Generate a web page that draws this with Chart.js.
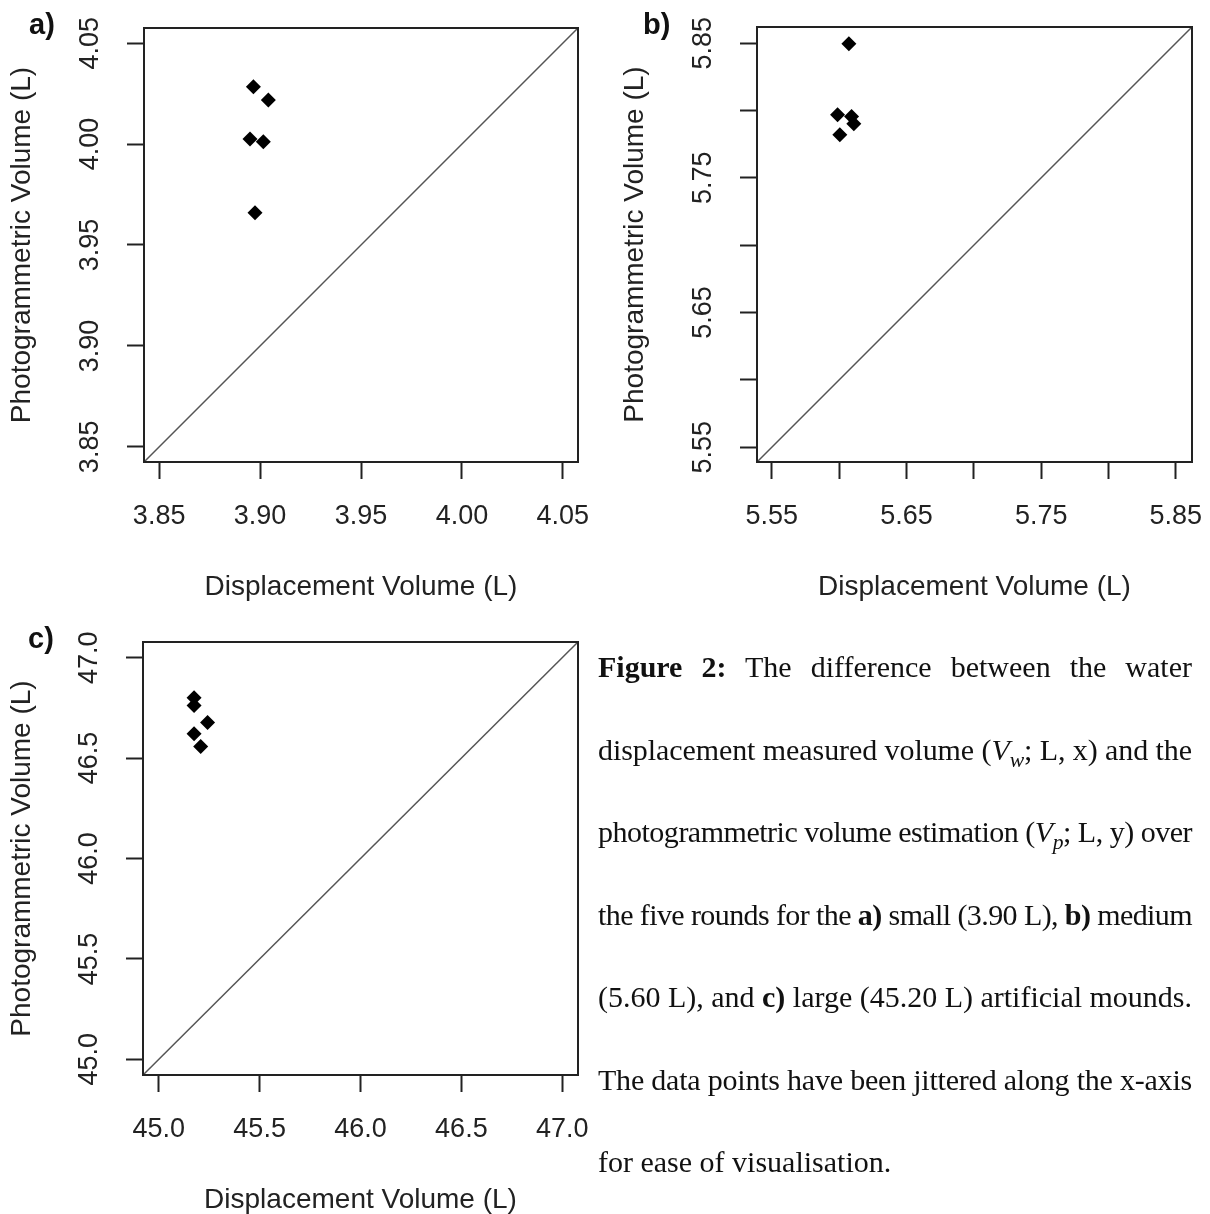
<!DOCTYPE html>
<html lang="en">
<head>
  <meta charset="UTF-8" />
  <title>Figure 2</title>
  <script src="https://cdn.jsdelivr.net/npm/chart.js"></script>
  <style>
    body { margin: 0; background: #fff; }
    #page { position: relative; width: 1210px; height: 1214px; overflow: hidden; }
    canvas { position: absolute; }
    .tag { position: absolute; font: bold 29px "Liberation Sans", Arial, sans-serif; line-height: 29px; color: #111; }
    #caption { position: absolute; left: 598px; top: 626px; width: 594px;
      font: 30px "Liberation Serif", "Times New Roman", serif; line-height: 82.5px; color: #111; }
    #caption div { text-align: justify; text-align-last: justify; white-space: nowrap; }
    #caption div.last { text-align-last: left; }
    #caption sub { font-size: 0.72em; line-height: 0; }
  </style>
</head>
<body>
  <div id="page">
    <canvas id="chartA" width="600" height="612" style="left:0;top:0"></canvas>
    <canvas id="chartB" width="597" height="612" style="left:613px;top:0"></canvas>
    <canvas id="chartC" width="600" height="600" style="left:0;top:614px"></canvas>
    <div class="tag" style="left:29px;top:10px">a)</div>
    <div class="tag" style="left:643px;top:10px">b)</div>
    <div class="tag" style="left:28px;top:624px">c)</div>
    <div id="caption">
      <div><b>Figure 2:</b> The difference between the water</div>
      <div>displacement measured volume (<i>V<sub>w</sub></i>; L, x) and the</div>
      <div>photogrammetric volume estimation (<i>V<sub>p</sub></i>; L, y) over</div>
      <div>the five rounds for the <b>a)</b> small (3.90 L), <b>b)</b> medium</div>
      <div>(5.60 L), and <b>c)</b> large (45.20 L) artificial mounds.</div>
      <div>The data points have been jittered along the x-axis</div>
      <div class="last">for ease of visualisation.</div>
    </div>
  </div>

  <script>
    // Werte
    const smallX = [3.8967, 3.9041, 3.8950, 3.9016, 3.8975];
    const smallY = [4.0284, 4.0218, 4.0025, 4.0012, 3.9660];
    const mediumX = [5.6072, 5.5988, 5.6092, 5.6109, 5.6005];
    const mediumY = [5.8496, 5.7968, 5.7955, 5.7901, 5.7819];
    const largeX = [45.175, 45.175, 45.242, 45.175, 45.208];
    const largeY = [46.800, 46.762, 46.677, 46.621, 46.558];

    const smallTicks = [3.85, 3.90, 3.95, 4.00, 4.05];
    const smallTickLabels = ["3.85", "3.90", "3.95", "4.00", "4.05"];
    const mediumTicks = [5.55, 5.60, 5.65, 5.70, 5.75, 5.80, 5.85];
    const mediumTickLabels = ["5.55", "", "5.65", "", "5.75", "", "5.85"];
    const largeTicks = [45.0, 45.5, 46.0, 46.5, 47.0];
    const largeTickLabels = ["45.0", "45.5", "46.0", "46.5", "47.0"];

    const smallLimits = [3.8425, 4.0575];
    const mediumLimits = [5.539, 5.862];
    const largeLimits = [44.922, 47.078];

    const xTitle = "Displacement Volume (L)";
    const yTitle = "Photogrammetric Volume (L)";

    const FONT = '"Liberation Sans", Arial, sans-serif';
    const INK = "#222";

    // Rahmen um die Zeichenfläche
    const boxPlugin = {
      id: "box",
      afterDatasetsDraw(chart) {
        const { ctx, chartArea: a } = chart;
        ctx.save();
        ctx.strokeStyle = INK;
        ctx.lineWidth = 2;
        ctx.strokeRect(a.left, a.top, a.right - a.left, a.bottom - a.top);
        ctx.restore();
      }
    };

    function axis(ticks, labels, limits, title, isY, size, titlePad) {
      return {
        type: "linear",
        min: limits[0],
        max: limits[1],
        afterBuildTicks: s => { s.ticks = ticks.map(v => ({ value: v })); },
        afterFit: s => {
          if (isY) { s.width = size; s.paddingTop = 0; s.paddingBottom = 0; }
          else { s.height = size; s.paddingLeft = 0; s.paddingRight = 0; }
        },
        grid: { display: true, drawOnChartArea: false, drawTicks: true, tickLength: 17, tickColor: INK, tickWidth: 2 },
        border: { display: false },
        ticks: {
          autoSkip: false,
          minRotation: isY ? 90 : 0,
          maxRotation: isY ? 90 : 0,
          crossAlign: isY ? "center" : "near",
          padding: isY ? 10 : 24,
          color: INK,
          font: { family: FONT, size: 27, lineHeight: 1 },
          callback: (v, i) => labels[i]
        },
        title: {
          display: true,
          text: title,
          color: INK,
          font: { family: FONT, size: 28, lineHeight: 1 },
          padding: isY ? { top: titlePad, bottom: 0 } : { top: 0, bottom: titlePad }
        }
      };
    }

    function makePanel(id, xs, ys, ticks, labels, limits, cfg) {
      const points = xs.map((x, i) => ({ x: x, y: ys[i] }));
      const diag = limits.map(v => ({ x: v, y: v }));
      new Chart(document.getElementById(id), {
        type: "scatter",
        data: {
          datasets: [
            { data: diag, showLine: true, borderColor: "#555", borderWidth: 1.5, pointRadius: 0 },
            { data: points, pointStyle: "rectRot", pointRadius: 7.5, pointBackgroundColor: "#000", pointBorderColor: "#000", pointBorderWidth: 0 }
          ]
        },
        options: {
          responsive: false,
          animation: false,
          events: [],
          layout: { autoPadding: false, padding: { left: 0, top: cfg.top, right: cfg.right, bottom: 0 } },
          plugins: { legend: { display: false }, tooltip: { enabled: false } },
          scales: {
            x: axis(ticks, labels, limits, xTitle, false, cfg.xh, cfg.xpad),
            y: axis(ticks, labels, limits, yTitle, true, cfg.yw, 8.5)
          }
        },
        plugins: [boxPlugin]
      });
    }

    makePanel("chartA", smallX, smallY, smallTicks, smallTickLabels, smallLimits, { top: 28, right: 22, xh: 150, yw: 144, xpad: 11 });
    makePanel("chartB", mediumX, mediumY, mediumTicks, mediumTickLabels, mediumLimits, { top: 27, right: 18, xh: 150, yw: 144, xpad: 11 });
    makePanel("chartC", largeX, largeY, largeTicks, largeTickLabels, largeLimits, { top: 28, right: 22, xh: 139, yw: 143, xpad: 0 });

    // Zeilen, die zu breit sind, leicht zusammenschieben
    document.querySelectorAll("#caption div").forEach(line => {
      const probe = document.createElement("span");
      probe.innerHTML = line.innerHTML;
      probe.style.whiteSpace = "nowrap";
      line.innerHTML = "";
      line.appendChild(probe);
      const extra = probe.getBoundingClientRect().width - 594;
      const html = probe.innerHTML;
      line.innerHTML = html;
      if (extra > 0) line.style.letterSpacing = (-extra / line.textContent.length) + "px";
    });
  </script>
</body>
</html>
